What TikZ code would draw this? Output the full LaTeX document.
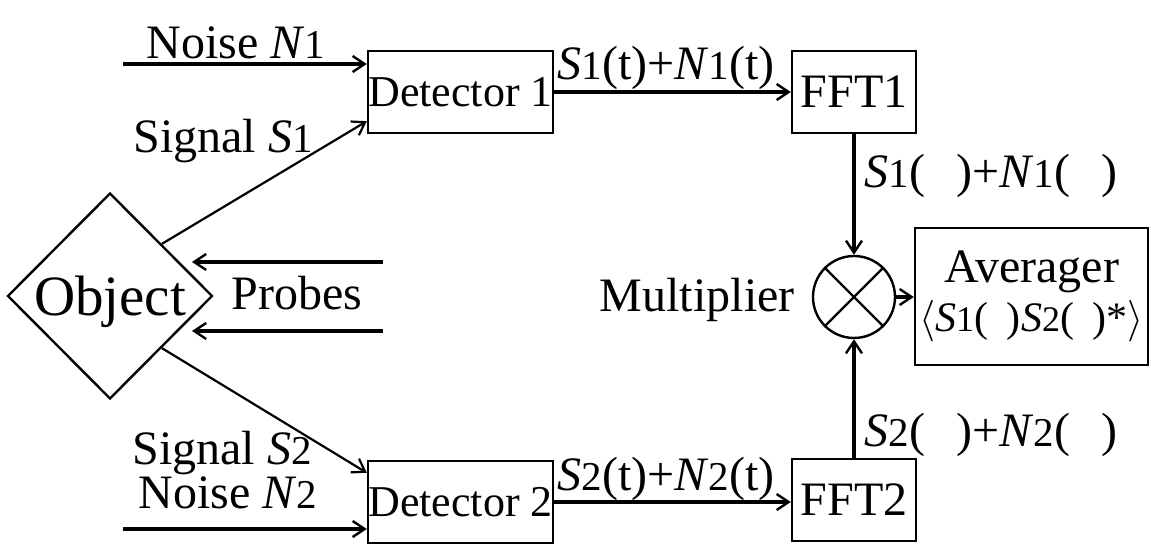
\documentclass[tikz,border=0pt]{standalone}
\usepackage{fontspec}
\setmainfont{Liberation Serif}
\usetikzlibrary{arrows.meta,shapes.geometric,calc}
\newcommand\dsm[1]{{\fontsize{20.5}{24}\selectfont #1}}
\newcommand\dsmb[1]{{\fontsize{18}{22}\selectfont #1}}
\tikzset{
  box/.style={draw, line width=1.2pt, inner sep=0pt},
  arr/.style={-{Straight Barb[length=6pt,width=8pt,line width=1.2pt]}, line width=1.6pt},
  tarr/.style={-{Straight Barb[length=6pt,width=8pt,line width=1.1pt]}, line width=1.1pt},
  lbl/.style={anchor=base, inner sep=0pt},
}
\begin{document}
\begin{tikzpicture}[x=0.5pt,y=-0.5pt,font=\fontsize{24}{28}\selectfont]
\useasboundingbox (0,0) rectangle (1151,550);
% blocks
\node[box, diamond, minimum width=102.5pt, minimum height=103pt, text depth=0pt,
      font=\fontsize{28.5}{32}\selectfont] (obj) at (110,296) {Object};
\node[box, minimum width=92.5pt, minimum height=41pt, font=\fontsize{22}{26}\selectfont] (det1) at (460.5,92) {Detector 1};
\node[box, minimum width=92.5pt, minimum height=41pt, font=\fontsize{22}{26}\selectfont] (det2) at (460.5,502) {Detector 2};
\node[box, minimum width=62pt, minimum height=41pt] (fft1) at (854,92) {FFT1};
\node[box, minimum width=62pt, minimum height=41pt] (fft2) at (854,500) {FFT2};
\node[box, circle, minimum size=41pt] (mul) at (854,297) {};
\draw[line width=1.2pt] (mul.north east) -- (mul.south west) (mul.north west) -- (mul.south east);
\node[box, minimum width=116.5pt, minimum height=68.5pt] (avg) at (1031.5,296.5) {};
\node[lbl] (avgt) at (1031.5,283) {Averager};
\node[lbl, font=\fontsize{21}{24}\selectfont] (avgf) at (1031.5,332) {$\langle$\textit{S}\dsmb{1}(\hspace{0.45em})\textit{S}\dsmb{2}(\hspace{0.45em})*$\rangle$};
% free ends
\coordinate (n1s) at (123,64);
\coordinate (n2s) at (123,529);
\coordinate (p1s) at (383,262);
\coordinate (p1e) at (192,262);
\coordinate (p2s) at (383,331);
\coordinate (p2e) at (192,331);
% connectors
\draw[arr] (n1s) -- (n1s -| det1.west);
\draw[arr] (n2s) -- (n2s -| det2.west);
\draw[tarr] (obj.north east) -- ($(det1.south west)+(0,-13)$);
\draw[tarr] (obj.south east) -- ($(det2.north west)+(0,13)$);
\draw[arr] (p1s) -- (p1e);
\draw[arr] (p2s) -- (p2e);
\draw[arr] (det1.east) -- (det1.east -| fft1.west);
\draw[arr] (det2.east) -- (det2.east -| fft2.west);
\draw[arr] (fft1.south) -- (mul.north);
\draw[arr] (fft2.north) -- (mul.south);
\draw[arr] (mul.east) -- (mul.east -| avg.west);
% labels
\node[lbl] (ln1) at (236,59) {Noise \textit{N}\dsm{1}};
\node[lbl] (ls1) at (223,153) {Signal \textit{S}\dsm{1}};
\node[lbl] (ls2) at (222,465) {Signal \textit{S}\dsm{2}};
\node[lbl] (ln2) at (228,509) {Noise \textit{N}\dsm{2}};
\node[lbl] (lpr) at (297,310) {Probes};
\node[lbl] (lt1) at (666,80) {\textit{S}\dsm{1}(t)+\textit{N}\dsm{1}(t)};
\node[lbl] (lt2) at (666,490) {\textit{S}\dsm{2}(t)+\textit{N}\dsm{2}(t)};
\node[lbl, anchor=base east] (lmul) at (795,312) {Multiplier};
\node[lbl] (lw1) at (991,188) {\textit{S}\dsm{1}(\hspace{0.65em})+\textit{N}\dsm{1}(\hspace{0.65em})};
\node[lbl] (lw2) at (991,447) {\textit{S}\dsm{2}(\hspace{0.65em})+\textit{N}\dsm{2}(\hspace{0.65em})};
\end{tikzpicture}
\end{document}
